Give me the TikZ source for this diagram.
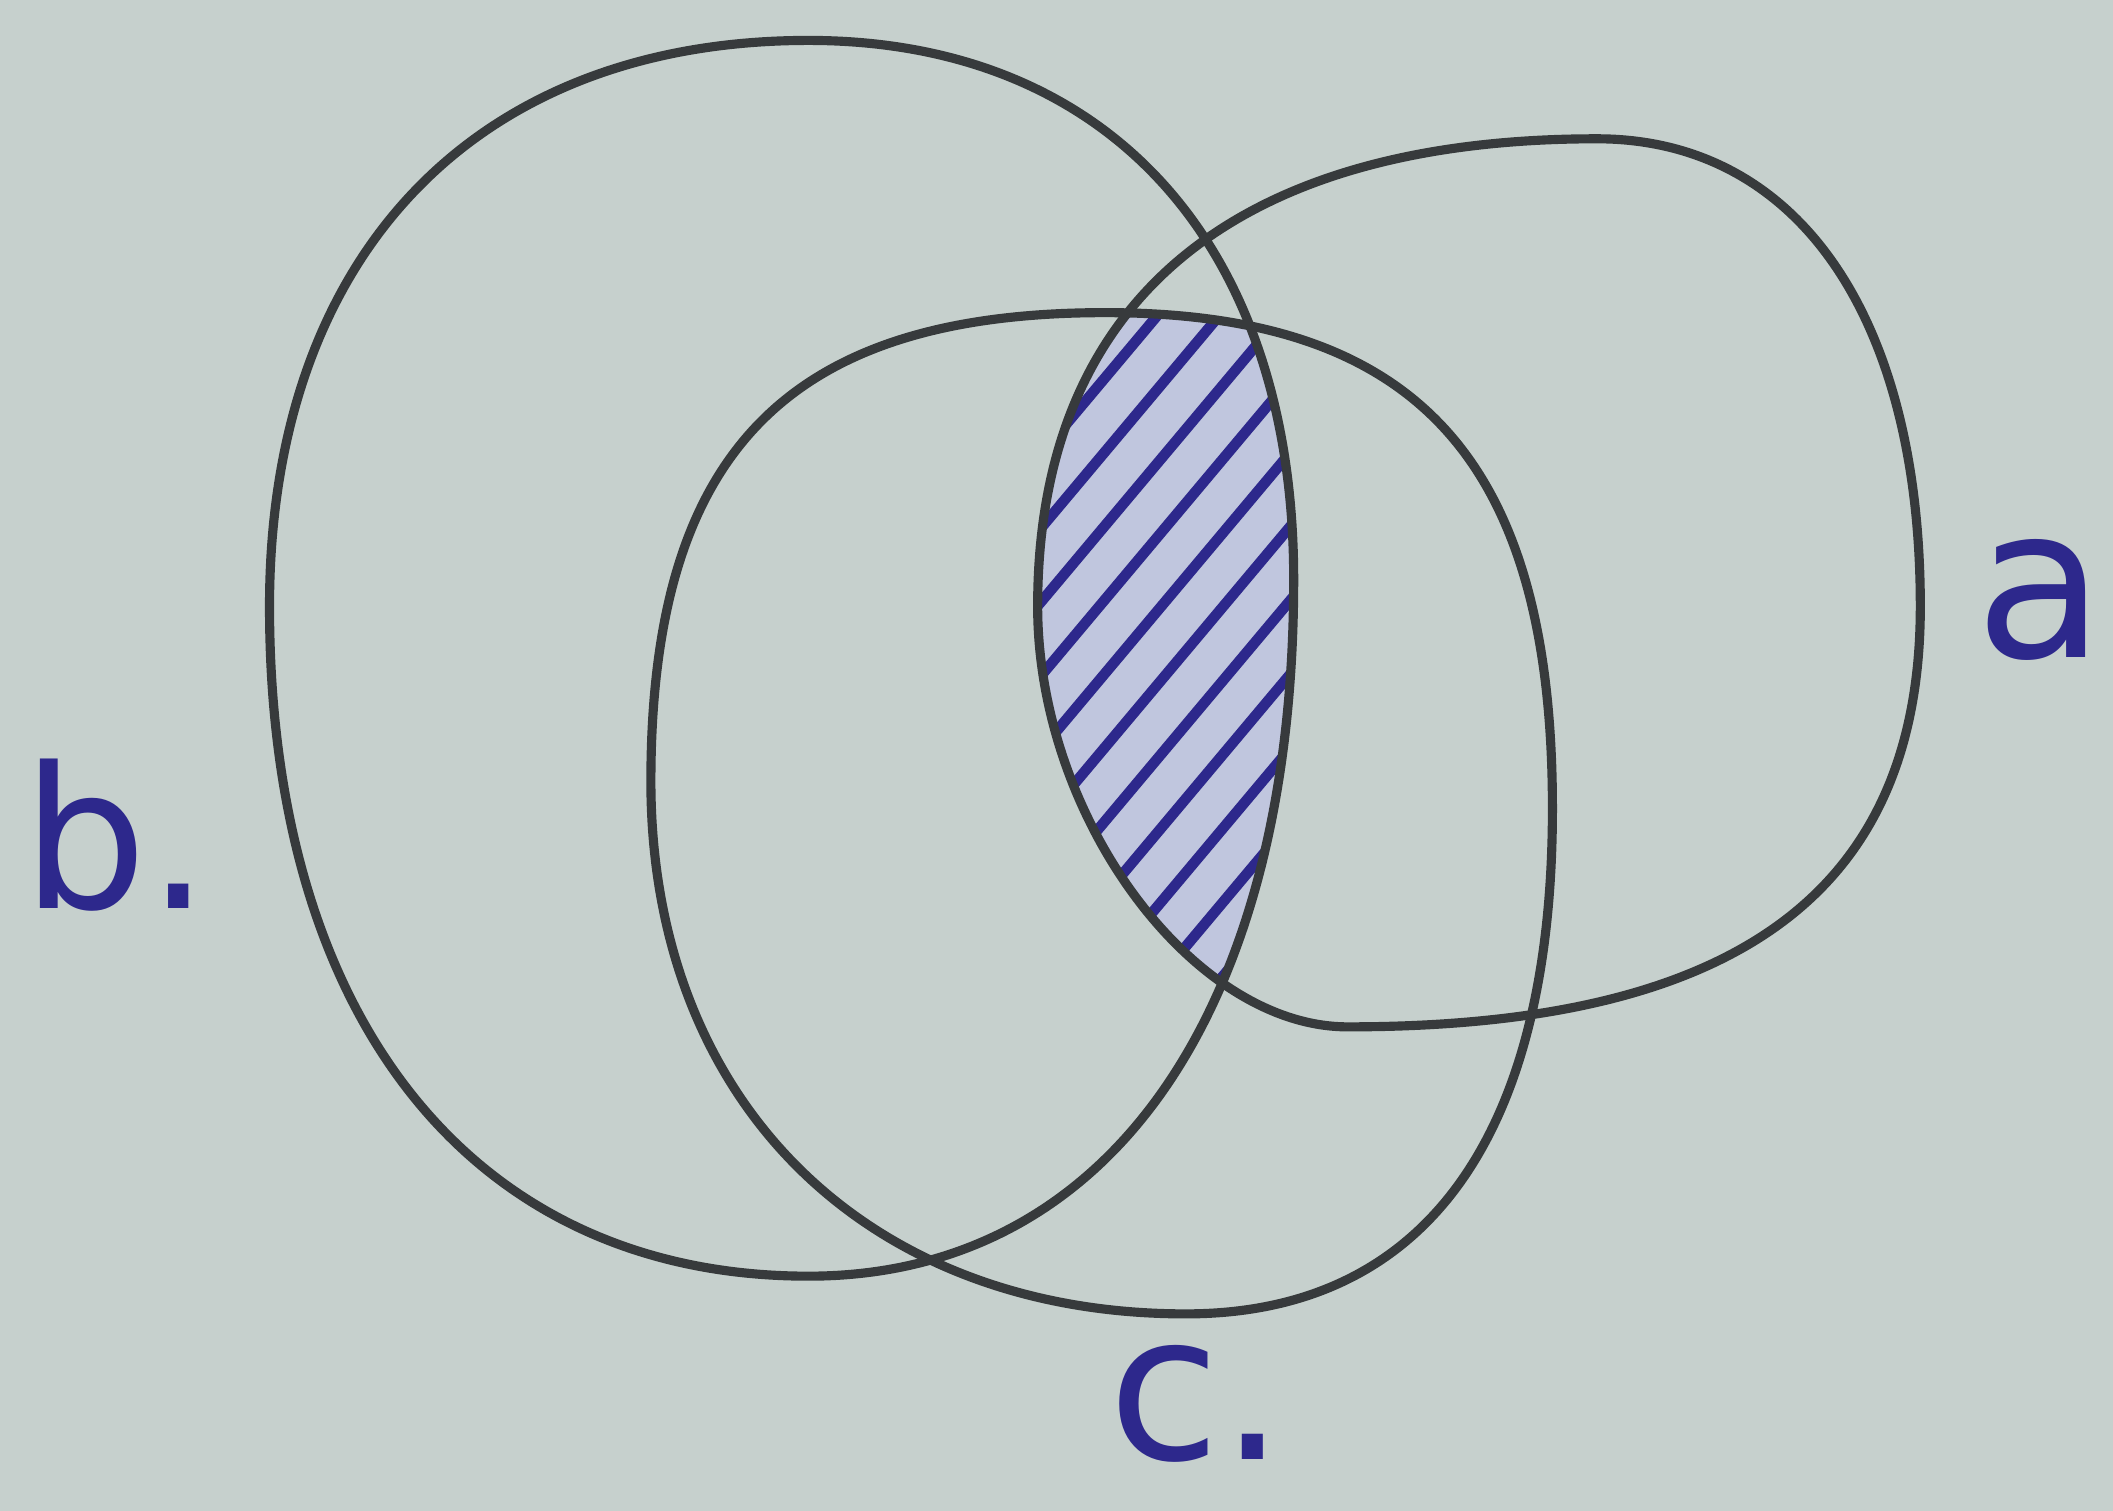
\documentclass[tikz,border=0pt]{standalone}
\usepackage{fontspec}
\setsansfont{DejaVu Sans}
\usepackage{tikz}
\usepackage{xcolor}
\definecolor{paper}{RGB}{198,208,205}
\definecolor{ink}{RGB}{55,58,60}
\definecolor{pen}{RGB}{45,40,140}
\definecolor{tint}{RGB}{192,198,222}
% the three sets, drawn by hand
\def\ringa{(1185,103) .. controls (1334,103) and (1425,235) .. (1425,450) .. controls (1425,662) and (1289,762) .. (1000,762) .. controls (885,762) and (770,606) .. (770,450) .. controls (770,224) and (915,103) .. cycle}
\def\ringb{(600,30) .. controls (823,30) and (960,182) .. (960,430) .. controls (960,750) and (823,947) .. (600,947) .. controls (352,947) and (200,758) .. (200,450) .. controls (200,190) and (352,30) .. cycle}
\def\ringc{(820,232) .. controls (1052,232) and (1152,342) .. (1152,600) .. controls (1152,844) and (1057,975) .. (880,975) .. controls (642,975) and (483,817) .. (483,580) .. controls (483,336) and (584,232) .. cycle}

\begin{document}
\begin{tikzpicture}[x=0.13476mm, y={(0mm,-0.13476mm)}, yshift=15.11cm,
  ring/.style={draw=ink, line width=2.6pt},
  hatchline/.style={draw=pen, line width=3pt, line cap=round},
  setlabel/.style={text=pen, inner sep=0pt, font=\sffamily\fontsize{#1}{#1}\selectfont}]
\useasboundingbox[fill=paper] (0,0) rectangle (1568,1121);
% the part in a, b and c
\begin{scope}
\clip \ringa;
\clip \ringb;
\clip \ringc;
\fill[tint] (0,0) rectangle (1568,1121);
\foreach \i in {0,...,13}
  \draw[hatchline] (292+46*\i,800) -- ++(-50:800);
\end{scope}
\draw[ring] \ringb;
\draw[ring] \ringa;
\draw[ring] \ringc;
\node[setlabel=60] (laba) at (1514,445) {a};
\node[setlabel=56] (labb) at (86,620) {b.};
\node[setlabel=58] (labc) at (888,1042) {c.};
\end{tikzpicture}
\end{document}
